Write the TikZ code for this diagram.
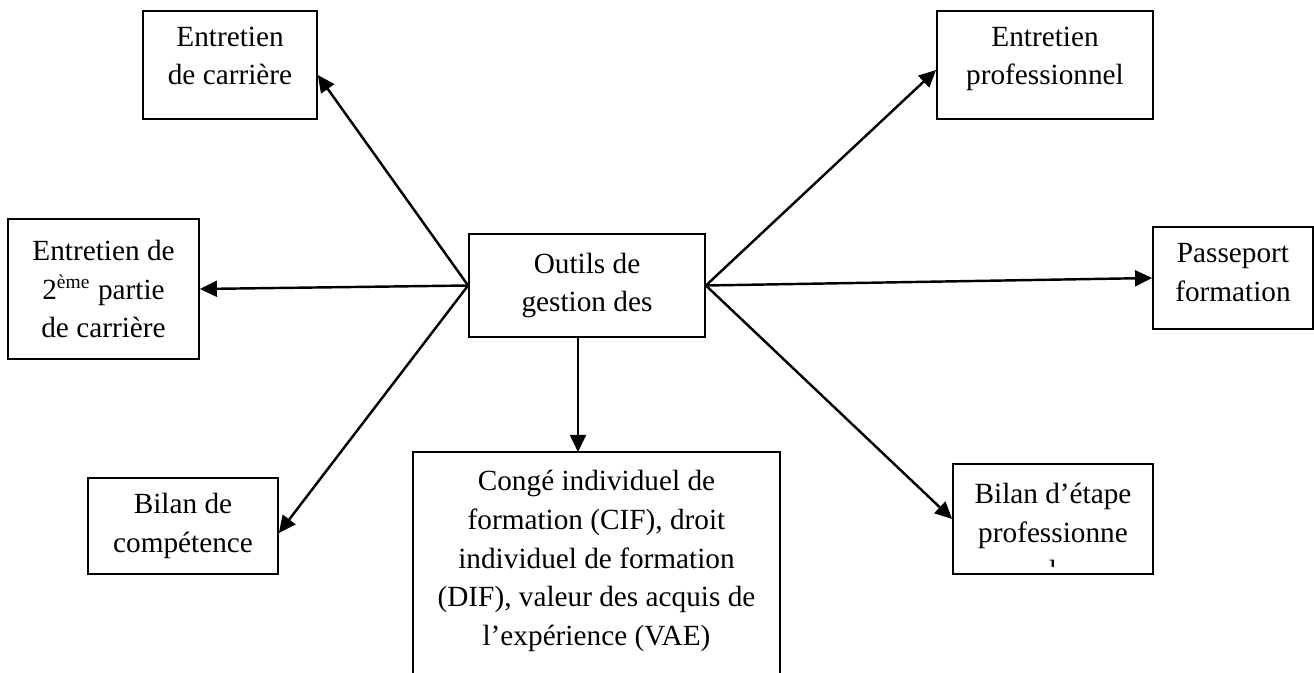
\documentclass[tikz,border=0pt]{standalone}
\usepackage{fontspec}
\setmainfont{Liberation Serif}
\usetikzlibrary{arrows.meta,calc}
\tikzset{
  blk/.style={draw, rectangle, line width=0.7pt, align=center, inner sep=0pt, font=\fontsize{12}{15.8}\selectfont},
  txt/.style={align=center, inner sep=0pt, font=\fontsize{12}{15.8}\selectfont},
  arr/.style={-{Triangle[length=7pt, width=6.5pt]}, line width=1pt},
}
\begin{document}
\begin{tikzpicture}[x=0.41pt, y=-0.41pt]
\useasboundingbox (0,0) rectangle (1314,673);

% Central box
\node[blk, minimum width=96.8pt, minimum height=42.2pt] (outils) at (587,285.5) {Outils de\\gestion des};

% Left side
\node[blk, minimum width=71.3pt, minimum height=44.3pt, text depth=7.6pt] (carriere) at (230,65) {Entretien\\de carrière};
\node[blk, minimum width=78.3pt, minimum height=57.4pt] (secpartie) at (103.5,289) {Entretien de\\2\textsuperscript{ème} partie\\de carrière};
\node[blk, minimum width=77.9pt, minimum height=39.4pt] (competence) at (183,526) {Bilan de\\compétence};

% Right side
\node[blk, minimum width=88.6pt, minimum height=44.3pt, text depth=7.6pt] (pro) at (1045,65) {Entretien\\professionnel};
\node[blk, minimum width=65.6pt, minimum height=41.8pt, text depth=4.5pt] (passeport) at (1233,278) {Passeport\\formation};
\node[blk, minimum width=82pt, minimum height=45.1pt] (etape) at (1053,519) {};
\begin{scope}
  \clip (etape.north west) rectangle ($(etape.south east)+(0,-8)$);
  \node[txt] at (1053,532) {Bilan d’étape\\professionne\\l};
\end{scope}

% Bottom box, open at the foot
\node[txt] (cif) at (596.5,561) {Congé individuel de\\formation (CIF), droit\\individuel de formation\\(DIF), valeur des acquis de\\l’expérience (VAE)};
\draw[line width=0.7pt] (413,673) |- (780,452) -- (780,673);
\coordinate (ciftop) at (578,452);

% Arrows
\draw[arr] (outils.west) -- ($(carriere.east)+(0,10)$);
\draw[arr] (outils.west) -- (secpartie.east);
\draw[arr] (outils.west) -- ($(competence.east)+(0,7)$);
\draw[arr] (outils.east) -- ($(pro.west)+(0,5)$);
\draw[arr] (outils.east) -- (passeport.west);
\draw[arr] (outils.east) -- (etape.west);
\draw[arr] (outils.south -| ciftop) -- (ciftop);

\end{tikzpicture}
\end{document}
